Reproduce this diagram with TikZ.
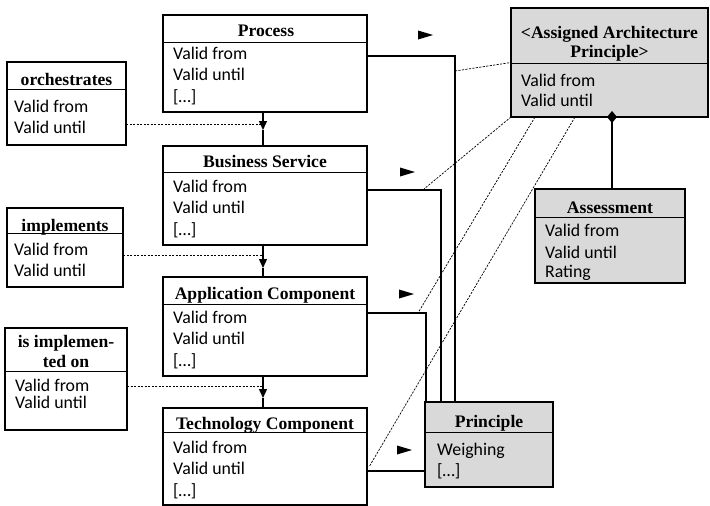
\documentclass[tikz,border=0pt]{standalone}
\usepackage{fontspec}
\setmainfont{Liberation Serif}
\newfontfamily\attrfont{Carlito}
\usetikzlibrary{arrows.meta,calc}
\definecolor{boxgray}{HTML}{D9D9D9}
\tikzset{
  cls/.style={draw, line width=2.6pt, inner sep=0pt, outer sep=0pt, fill=white},
  clsgray/.style={cls, fill=boxgray},
  ttl/.style={font=\fontsize{17.6}{20}\selectfont\bfseries, anchor=base, inner sep=0pt},
  attr/.style={font=\attrfont\fontsize{17.8}{20}\selectfont, anchor=base west, inner sep=0pt},
  sepline/.style={line width=0.9pt},
  assoc/.style={line width=1.6pt},
  assocdash/.style={line width=0.7pt, dash pattern=on 2.2pt off 1.3pt},
  flow/.style={line width=1.4pt},
  flowtip/.style={flow, -{Triangle[length=9pt,width=8pt]}},
  readdir/.style={fill=black},
}
\begin{document}
\begin{tikzpicture}[x=1pt,y=-1pt]
\useasboundingbox (0,0) rectangle (710,506);

% ---- class boxes ----
\node[cls, minimum width=204pt, minimum height=97pt] (proc) at (265,63.5) {};
\draw[sepline] (proc.west |- 0,42) -- (proc.east |- 0,42);
\node[ttl] (procT) at (266,36) {Process};
\node[attr] (procA1) at (173,59) {Valid from};
\node[attr] (procA2) at (173,80.5) {Valid until};
\node[attr] (procA3) at (173,102) {[…]};

\node[cls, minimum width=204pt, minimum height=99pt] (bs) at (265,195.5) {};
\draw[sepline] (bs.west |- 0,172) -- (bs.east |- 0,172);
\node[ttl] (bsT) at (265,167) {Business Service};
\node[attr] (bsA1) at (173,192) {Valid from};
\node[attr] (bsA2) at (173,213.5) {Valid until};
\node[attr] (bsA3) at (173,235) {[…]};

\node[cls, minimum width=204pt, minimum height=99pt] (app) at (265,326.5) {};
\draw[sepline] (app.west |- 0,304) -- (app.east |- 0,304);
\node[ttl] (appT) at (265,299) {Application Component};
\node[attr] (appA1) at (173,323) {Valid from};
\node[attr] (appA2) at (173,344.5) {Valid until};
\node[attr] (appA3) at (173,366) {[…]};

\node[cls, minimum width=204pt, minimum height=97pt] (tech) at (265,456.5) {};
\draw[sepline] (tech.west |- 0,432) -- (tech.east |- 0,432);
\node[ttl] (techT) at (265,429) {Technology Component};
\node[attr] (techA1) at (173,453) {Valid from};
\node[attr] (techA2) at (173,474.5) {Valid until};
\node[attr] (techA3) at (173,496) {[…]};

% association classes on the left
\node[cls, minimum width=119pt, minimum height=83pt] (orch) at (66.5,103.5) {};
\draw[sepline] (orch.west |- 0,89) -- (orch.east |- 0,89);
\node[ttl] (orchT) at (66.5,85) {orchestrates};
\node[attr] (orchA1) at (14,112) {Valid from};
\node[attr] (orchA2) at (14,133) {Valid until};

\node[cls, minimum width=116pt, minimum height=79pt] (impl) at (65,247.5) {};
\draw[sepline] (impl.west |- 0,233) -- (impl.east |- 0,233);
\node[ttl] (implT) at (65,231) {implements};
\node[attr] (implA1) at (14,255) {Valid from};
\node[attr] (implA2) at (14,276) {Valid until};

\node[cls, minimum width=122pt, minimum height=102pt] (ison) at (66,379) {};
\draw[sepline] (ison.west |- 0,371) -- (ison.east |- 0,371);
\node[ttl] (isonT1) at (66,347) {is implemen-};
\node[ttl] (isonT2) at (66,367) {ted on};
\node[attr] (isonA1) at (15,391) {Valid from};
\node[attr] (isonA2) at (15,408) {Valid until};

% gray classes on the right
\node[clsgray, minimum width=197pt, minimum height=109pt] (aap) at (609.5,62.5) {};
\draw[sepline] (aap.west |- 0,63) -- (aap.east |- 0,63);
\node[ttl] (aapT1) at (609.5,38) {<Assigned Architecture};
\node[ttl] (aapT2) at (609.5,57) {Principle>};
\node[attr] (aapA1) at (521,86) {Valid from};
\node[attr] (aapA2) at (521,106) {Valid until};

\node[clsgray, minimum width=150pt, minimum height=94pt] (assess) at (610,236) {};
\draw[sepline] (assess.west |- 0,217) -- (assess.east |- 0,217);
\node[ttl] (assessT) at (610,213) {Assessment};
\node[attr] (assessA1) at (545,236) {Valid from};
\node[attr] (assessA2) at (545,258) {Valid until};
\node[attr] (assessA3) at (545,277) {Rating};

\node[clsgray, minimum width=128pt, minimum height=85pt] (princ) at (489,444.5) {};
\draw[sepline] (princ.west |- 0,432) -- (princ.east |- 0,432);
\node[ttl] (princT) at (489,427) {Principle};
\node[attr] (princA1) at (437,455) {Weighing};
\node[attr] (princA2) at (437,476) {[…]};

% ---- layer chain with mid arrows ----
\coordinate (m1) at (263,130);
\coordinate (m2) at (263,268);
\coordinate (m3) at (263,398);
\draw[flowtip] (proc.south -| m1) -- (m1);
\draw[flow] (m1) -- (bs.north -| m1);
\draw[flowtip] (bs.south -| m2) -- (m2);
\draw[flow] (m2) -- (app.north -| m2);
\draw[flowtip] (app.south -| m3) -- (m3);
\draw[flow] (m3) -- (tech.north -| m3);

% association classes attached to the chain
\coordinate (d1) at (263,124);
\coordinate (d2) at (263,255);
\coordinate (d3) at (263,386);
\draw[assocdash] (orch.east |- d1) -- (d1);
\draw[assocdash] (impl.east |- d2) -- (d2);
\draw[assocdash] (ison.east |- d3) -- (d3);

% ---- associations to Principle ----
\coordinate (p1) at (455,56);
\coordinate (p2) at (441,190);
\coordinate (p3) at (426,313);
\coordinate (p4) at (425,471);
\draw[assoc] (proc.east |- p1) -| (princ.north -| p1);
\draw[assoc] (bs.east |- p2) -| (princ.north -| p2);
\draw[assoc] (app.east |- p3) -| (princ.north -| p3);
\draw[assoc] (tech.east |- p4) -- (princ.west |- p4);

% reading direction markers
\fill[readdir] (418,30.5) -- (433,35) -- (418,39.5) -- cycle;
\fill[readdir] (400,167.5) -- (415,172) -- (400,176.5) -- cycle;
\fill[readdir] (399,289.5) -- (414,294) -- (399,298.5) -- cycle;
\fill[readdir] (397,445.5) -- (412,450) -- (397,454.5) -- cycle;

% ---- assigned principle as association class ----
\coordinate (q1) at (455,71);
\coordinate (q2) at (424,189);
\coordinate (q3) at (418,313);
\coordinate (q4) at (369,467);
\draw[assocdash] (q1) -- (aap.west);
\draw[assocdash] (aap.south west) -- (q2);
\draw[assocdash] ($(aap.south west)+(24,0)$) -- (q3);
\draw[assocdash] ($(aap.south west)+(64,0)$) -- (q4);

% composition
\coordinate (c1) at (612,111);
\draw[assoc, -{Diamond[length=12pt,width=10pt]}] (assess.north -| c1) -- (c1);

\end{tikzpicture}
\end{document}
